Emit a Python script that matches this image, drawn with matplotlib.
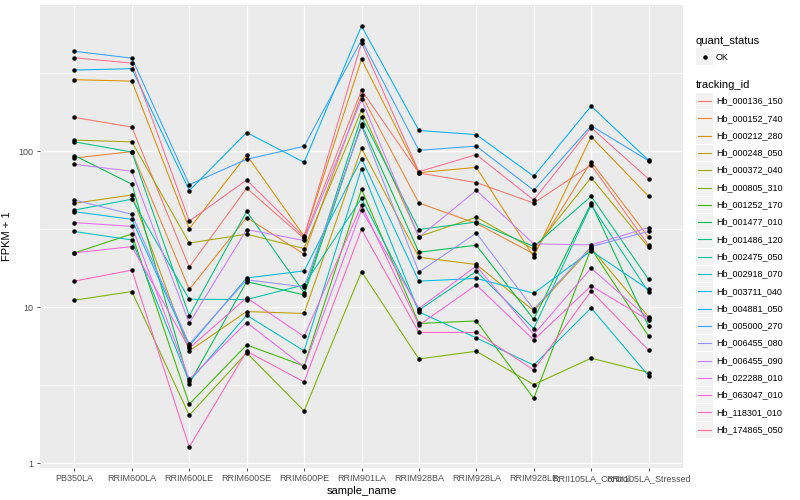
import numpy as np
import matplotlib
matplotlib.use("Agg")
import matplotlib.pyplot as plt
from matplotlib.lines import Line2D
from matplotlib.patches import Rectangle

plt.rcParams['font.family'] = ['Liberation Sans', 'DejaVu Sans']

samples = ["PB350LA", "RRIM600LA", "RRIM600LE", "RRIM600SE", "RRIM600PE",
           "RRIM901LA", "RRIM928BA", "RRIM928LA", "RRIM928LE",
           "RRII105LA_Control", "RRII105LA_Stressed"]

tracking_ids = ["Hb_000136_150", "Hb_000152_740", "Hb_000212_280", "Hb_000248_050",
                "Hb_000372_040", "Hb_000805_310", "Hb_001252_170", "Hb_001477_010",
                "Hb_001486_120", "Hb_002475_050", "Hb_002918_070", "Hb_003711_040",
                "Hb_004881_050", "Hb_005000_270", "Hb_006455_080", "Hb_006455_090",
                "Hb_022288_010", "Hb_063047_010", "Hb_118301_010", "Hb_174865_050"]

# FPKM + 1 values per tracking id, one per sample
Hb_000136_150 = [165, 143, 18.1, 58, 27.6, 247, 72.6, 63, 46.6, 81.7, 25]
Hb_000152_740 = [90.6, 99.6, 13.0, 37.6, 21.9, 230, 46.6, 34.5, 22, 85.9, 28.1]
Hb_000212_280 = [288, 282, 31.9, 94.7, 28.6, 389, 73, 78.9, 21.1, 124, 51.5]
Hb_000248_050 = [46.4, 52.5, 5.25, 9.38, 9.12, 104.5, 20.9, 18.8, 9.5, 24.0, 8.66]
Hb_000372_040 = [118, 115, 25.8, 29.4, 23.8, 184, 28.4, 37.8, 23.5, 67.8, 24.2]
Hb_000805_310 = [11.1, 12.6, 2.03, 5.1, 2.16, 16.9, 4.66, 5.22, 3.19, 4.71, 3.81]
Hb_001252_170 = [22.3, 29.5, 2.39, 5.73, 4.2, 57.1, 7.87, 8.17, 2.6, 23.8, 6.52]
Hb_001477_010 = [94, 61.6, 3.24, 14.6, 12.0, 149, 22.5, 25.0, 8.37, 46.4, 7.55]
Hb_001486_120 = [115, 99, 8.8, 41.2, 12.4, 167, 31.5, 35.2, 24.5, 51.5, 15.1]
Hb_002475_050 = [42, 49.3, 11.25, 11.2, 13.9, 50, 9.57, 17.0, 7.3, 45.3, 12.5]
Hb_002918_070 = [30.6, 27, 3.34, 8.89, 5.25, 77.5, 9.33, 6.36, 4.25, 9.9, 3.63]
Hb_003711_040 = [41, 36.6, 5.65, 15.4, 17.1, 89.8, 14.7, 15.3, 12.3, 23.0, 13.0]
Hb_004881_050 = [332, 339, 56, 132, 85, 636, 136, 128, 69.2, 195, 87.6]
Hb_005000_270 = [438, 396, 61.1, 88.9, 107.7, 517, 101.5, 108, 56.2, 146, 87]
Hb_006455_080 = [48.7, 39.4, 5.8, 15.0, 13.5, 145, 16.8, 29.9, 9.7, 24.5, 30.6]
Hb_006455_090 = [82.5, 74.5, 7.9, 31.5, 26.8, 215, 28.1, 56.2, 25.5, 25.1, 32.4]
Hb_022288_010 = [34.9, 33, 3.45, 7.98, 4.14, 42, 9.81, 18.4, 6.68, 17.8, 8.47]
Hb_063047_010 = [22.3, 24.5, 5.46, 11.5, 6.49, 45.1, 7.67, 13.9, 6.17, 13.7, 8.26]
Hb_118301_010 = [14.7, 17.3, 1.27, 5.22, 3.32, 31.6, 6.89, 6.89, 3.96, 12.7, 5.3]
Hb_174865_050 = [398, 368, 35.7, 65.5, 28.3, 497, 74, 95.2, 48.7, 142, 66.5]

series = [Hb_000136_150, Hb_000152_740, Hb_000212_280, Hb_000248_050, Hb_000372_040,
          Hb_000805_310, Hb_001252_170, Hb_001477_010, Hb_001486_120, Hb_002475_050,
          Hb_002918_070, Hb_003711_040, Hb_004881_050, Hb_005000_270, Hb_006455_080,
          Hb_006455_090, Hb_022288_010, Hb_063047_010, Hb_118301_010, Hb_174865_050]

colors = ["#F8766D", "#EA8331", "#D89000", "#C09B00", "#A3A500", "#7CAE00", "#39B600",
          "#00BB4E", "#00BF7D", "#00C1A3", "#00BFC4", "#00BAE0", "#00B0F6", "#35A2FF",
          "#9590FF", "#C77CFF", "#E76BF3", "#FA62DB", "#FF62BC", "#FF6C91"]

W, H = 800, 500
fig = plt.figure(figsize=(8, 5), dpi=100)
fig.patch.set_facecolor("white")
ax = fig.add_axes([40 / W, 1 - 468 / H, (683 - 40) / W, (468 - 5) / H])
ax.set_facecolor("#EBEBEB")

x = np.arange(len(samples))
for vals, col in zip(series, colors):
    ax.plot(x, vals, color=col, lw=0.75, zorder=3)
for vals in series:
    ax.plot(x, vals, ls="none", marker="o", ms=2.2, color="black", zorder=4)

ax.set_yscale("log")
allv = np.log10(np.concatenate([np.asarray(s, float) for s in series]))
lo, hi = allv.min(), allv.max()
pad = 0.05 * (hi - lo)
ax.set_ylim(10 ** (lo - pad), 10 ** (hi + pad))
ax.set_xlim(-0.6, len(samples) - 0.4)

ax.set_yticks([1, 10, 100])
ax.set_yticklabels(["1", "10", "100"])
ax.yaxis.set_minor_locator(matplotlib.ticker.FixedLocator([10 ** 0.5, 10 ** 1.5, 10 ** 2.5]))
ax.yaxis.set_minor_formatter(matplotlib.ticker.NullFormatter())
ax.set_xticks(x)
ax.set_xticklabels(samples)

ax.grid(True, which="major", color="white", lw=1.0, zorder=0)
ax.grid(True, which="minor", axis="y", color="white", lw=0.5, zorder=0)
ax.set_axisbelow(True)
for sp in ax.spines.values():
    sp.set_visible(False)
ax.tick_params(which="major", length=2.5, width=0.6, color="#333333",
               labelsize=6.5, labelcolor="#4D4D4D", pad=2)
ax.tick_params(which="minor", length=0)
ax.set_xlabel("sample_name", fontsize=8, labelpad=2)
ax.set_ylabel("FPKM + 1", fontsize=8, labelpad=5)

# Legend drawn at the right
def fx(px):
    return px / W

def fy(py):
    return 1 - py / H

fig.text(fx(696), fy(41), "quant_status", fontsize=8, va="center", ha="left")
fig.patches.append(Rectangle((fx(696), fy(65)), 17 / W, 16.5 / H, transform=fig.transFigure,
                             facecolor="#F2F2F2", edgecolor="none"))
fig.lines.append(Line2D([fx(704.5)], [fy(57)], transform=fig.transFigure, marker="o",
                        ms=2.2, color="black", ls="none"))
fig.text(fx(716), fy(57), "OK", fontsize=6.5, va="center", ha="left")

fig.text(fx(696), fy(84.5), "tracking_id", fontsize=8, va="center", ha="left")
for i, (tid, col) in enumerate(zip(tracking_ids, colors)):
    cy = 101 + i * 17.3
    fig.patches.append(Rectangle((fx(696), fy(cy + 8.2)), 17 / W, 16.4 / H,
                                 transform=fig.transFigure, facecolor="#F2F2F2",
                                 edgecolor="none"))
    fig.lines.append(Line2D([fx(698), fx(711)], [fy(cy), fy(cy)], transform=fig.transFigure,
                            color=col, lw=0.8))
    fig.text(fx(716), fy(cy), tid, fontsize=6.5, va="center", ha="left")

fig.savefig("out.png", dpi=100)
